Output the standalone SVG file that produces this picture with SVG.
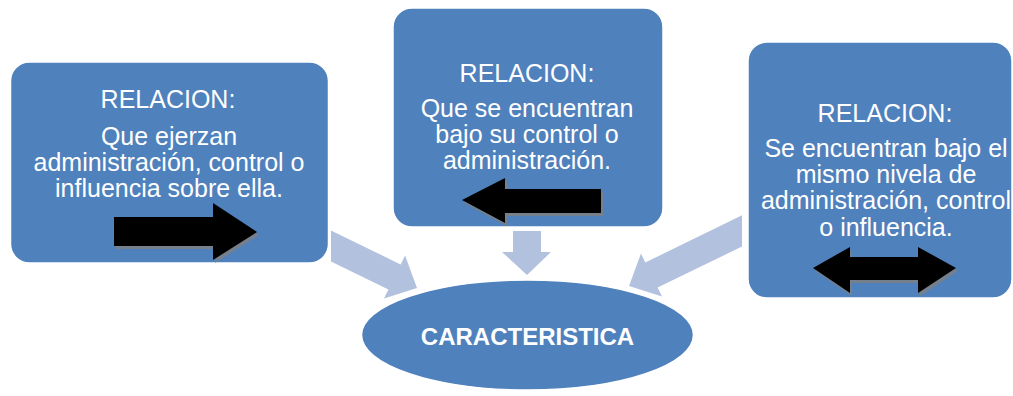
<svg xmlns="http://www.w3.org/2000/svg" width="1013" height="396" viewBox="0 0 1013 396">
<style>
.box{fill:#4F81BD;stroke:#ffffff;stroke-width:1.5}
.conn{fill:#B2C1DD}
.t{font-family:"Liberation Sans",Arial,sans-serif;font-size:25px;fill:#ffffff;text-anchor:middle}
.tb{font-family:"Liberation Sans",Arial,sans-serif;font-size:24px;font-weight:bold;fill:#ffffff;text-anchor:middle}
.blk{fill:#000000}
.shd{fill:#7f7f7f;opacity:0.8}
</style>
<rect width="1013" height="396" fill="#ffffff"/>
<g id="connectors">
<polygon class="conn" points="331,230.5 400.7,264.5 405.1,255.5 417,288 384,298.6 388.4,289.6 331,261.6"/>
<polygon class="conn" points="513,231 541,231 541,252 551,252 527,275 502,252 513,252"/>
<polygon class="conn" points="742,215.3 645.3,262.5 641,253.5 629,286 662,296.6 657.6,287.6 742,246.5"/>
</g>
<g id="node-left">
<rect class="box" x="10.5" y="62" width="318" height="201" rx="19"/>
<text class="t" x="168" y="108">RELACION:</text>
<text class="t" x="169" y="145">Que ejerzan</text>
<text class="t" x="169" y="171">administración, control o</text>
<text class="t" x="169" y="197">influencia sobre ella.</text>
<polygon class="shd" points="116,220 215,220 215,206 259,235 215,263 215,249 116,249"/>
<polygon class="blk" points="114,217 213,217 213,203 257,232 213,260 213,246 114,246"/>
</g>
<g id="node-middle">
<rect class="box" x="393" y="8" width="270" height="219" rx="19"/>
<text class="t" x="527" y="82">RELACION:</text>
<text class="t" x="527" y="117">Que se encuentran</text>
<text class="t" x="527" y="143">bajo su control o</text>
<text class="t" x="527" y="169">administración.</text>
<polygon class="shd" points="464,203 507,181 507,192 603,192 603,216 507,216 507,226"/>
<polygon class="blk" points="462,200 505,178 505,189 601,189 601,213 505,213 505,223"/>
</g>
<g id="node-right">
<rect class="box" x="748" y="42" width="264" height="256" rx="19"/>
<text class="t" x="885" y="122">RELACION:</text>
<text class="t" x="886" y="157">Se encuentran bajo el</text>
<text class="t" x="886" y="183">mismo nivela de</text>
<text class="t" x="886" y="209">administración, control</text>
<text class="t" x="886" y="236">o influencia.</text>
<polygon class="shd" points="815,271 852,250 852,260 920,260 920,250 958,271 920,296 920,283 852,283 852,296"/>
<polygon class="blk" points="813,268 850,247 850,257 918,257 918,247 956,268 918,293 918,280 850,280 850,293"/>
</g>
<g id="node-center">
<ellipse class="box" cx="527.5" cy="335" rx="166" ry="55" stroke-width="2"/>
<text class="tb" x="527.5" y="345">CARACTERISTICA</text>
</g>
</svg>
